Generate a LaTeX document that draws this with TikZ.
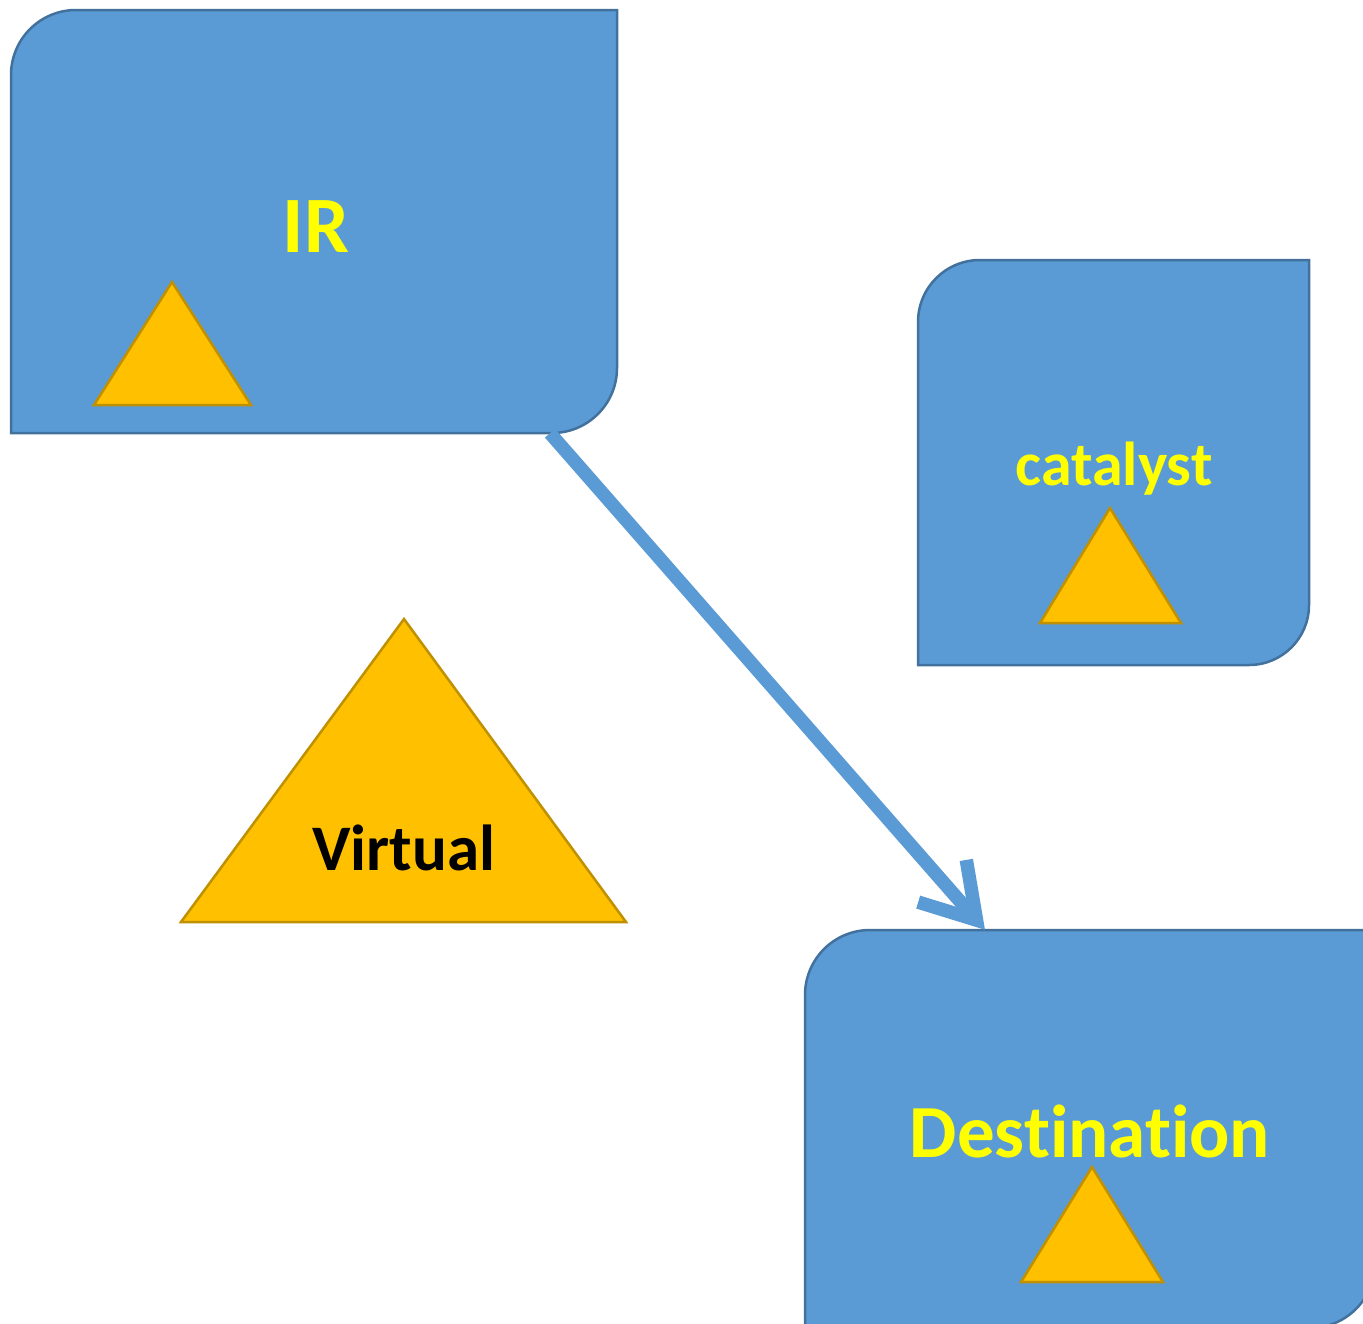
\documentclass[tikz,border=0pt]{standalone}
\usepackage{fontspec}
\setmainfont[Ligatures=NoCommon]{Carlito}
\usetikzlibrary{arrows.meta,fit}
\definecolor{boxfill}{HTML}{5B9BD5}
\definecolor{boxline}{HTML}{41719C}
\definecolor{trifill}{HTML}{FFC000}
\definecolor{triline}{HTML}{BF9000}
\definecolor{txtyellow}{HTML}{FFFF00}
\begin{document}
\begin{tikzpicture}[x=1pt,y=-1pt,
  boxshape/.style={fill=boxfill,draw=boxline,line width=2.5pt},
  trishape/.style={fill=trifill,draw=triline,line width=2.5pt,line join=miter},
  label/.style={inner sep=0pt,anchor=base,font=\bfseries},
  conn/.style={draw=boxfill,line width=13.5pt,-{Straight Barb[length=52pt,width=64pt]}}]
\useasboundingbox (0,0) rectangle (1363,1323);
% IR box
\draw[boxshape] (11,433) -- (11,75) arc[start angle=180,end angle=270,radius=65] -- (617,10) -- (617,368) arc[start angle=0,end angle=90,radius=65] -- cycle;
\node[inner sep=0pt,fit={(11,10) (617,433)}] (IR) {};
% catalyst box
\draw[boxshape] (918,665) -- (918,322) arc[start angle=180,end angle=270,radius=62] -- (1309,260) -- (1309,605) arc[start angle=0,end angle=90,radius=60] -- cycle;
\node[inner sep=0pt,fit={(918,260) (1309,665)}] (CAT) {};
% Destination box
\draw[boxshape] (805,1340) -- (805,995) arc[start angle=180,end angle=270,radius=65] -- (1375,930) -- (1375,1263) arc[start angle=0,end angle=90,radius=65] -- cycle;
\node[inner sep=0pt,fit={(805,930) (1375,1328)}] (DEST) {};
% triangles
\draw[trishape] (172,282) -- (251,405) -- (94,405) -- cycle;
\draw[trishape] (1110,508) -- (1181,623) -- (1040,623) -- cycle;
\draw[trishape] (1092,1167) -- (1163,1282) -- (1021,1282) -- cycle;
\draw[trishape] (404,619) -- (626,922) -- (181,922) -- cycle;
% texts
\node[label,text=txtyellow,font=\bfseries\fontsize{80}{96}\selectfont] (irt) at (316,252) {IR};
\node[label,text=txtyellow,font=\bfseries\fontsize{62}{74}\selectfont] (catt) at (1114,485) {catalyst};
\node[label,text=black,font=\bfseries\fontsize{65}{78}\selectfont] (virt) at (404,870) {Virtual};
\node[label,text=txtyellow,font=\bfseries\fontsize{75}{90}\selectfont] (destt) at (1090,1157) {Destination};
% connector
\coordinate (a) at (IR.south -| 550,0);
\coordinate (b) at (DEST.north -| 985,0);
\draw[conn] (a) -- (b);
\end{tikzpicture}
\end{document}
